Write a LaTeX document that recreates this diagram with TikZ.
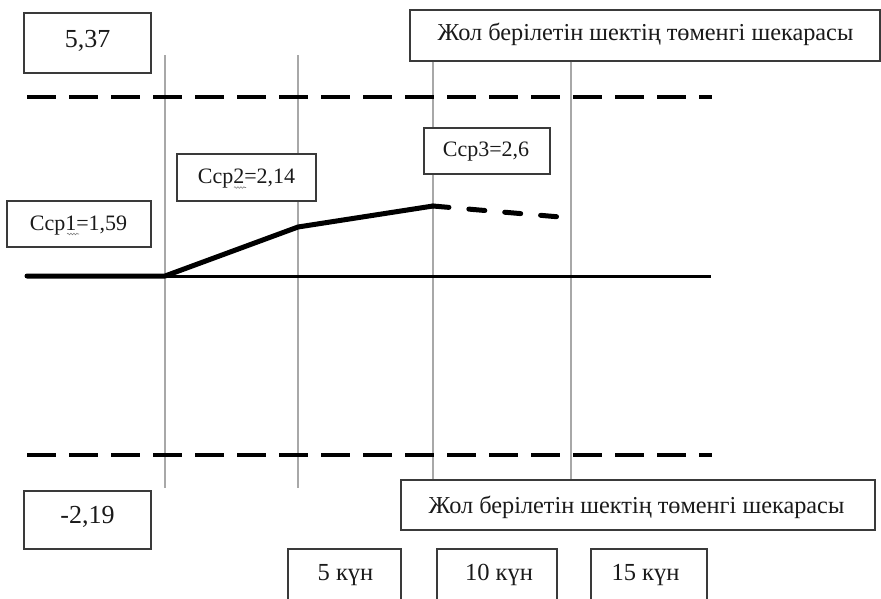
\documentclass[tikz,border=0pt]{standalone}
\usepackage{fontspec}
\setmainfont{Liberation Serif}
\usetikzlibrary{decorations.pathmorphing}
\definecolor{framegray}{HTML}{3A3A3A}
\definecolor{gridgray}{HTML}{A8A8A8}
\definecolor{inkblack}{HTML}{1A1A1A}
\tikzset{
  box/.style={draw=framegray, line width=1.2pt, inner sep=0pt, fill=white},
  lbl/.style={anchor=base, inner sep=0pt, text=inkblack},
  bigfont/.style={font=\fontsize{26}{30}\selectfont},
  midfont/.style={font=\fontsize{22}{26}\selectfont},
  longfont/.style={font=\fontsize{24.3}{28}\selectfont},
  daysfont/.style={font=\fontsize{24.5}{28}\selectfont},
  gridline/.style={draw=gridgray, line width=1.5pt},
  limitline/.style={draw=black, line width=4pt, dash pattern=on 29pt off 13pt},
  baseline/.style={draw=black, line width=3pt},
  trend/.style={draw=black, line width=5pt, line join=round, line cap=round},
  forecast/.style={draw=black, line width=5pt, line cap=round, dash pattern=on 16pt off 20pt},
  squiggle/.style={draw=gray, line width=0.6pt, decorate, decoration={snake, amplitude=0.8pt, segment length=3pt}}
}
\begin{document}
\begin{tikzpicture}[x=1pt, y=-1pt]
\clip (0,0) rectangle (881,598);
\fill[white] (0,0) rectangle (881,598);

% control points of the chart
\coordinate (l0) at (27,97);   \coordinate (l1) at (712,97);
\coordinate (u0) at (27,455);  \coordinate (u1) at (712,455);
\coordinate (a0) at (27,276);  \coordinate (a1) at (711,276);
\coordinate (p1) at (165,276);
\coordinate (p2) at (298,227);
\coordinate (p3) at (433,206);
\coordinate (p4) at (560,217);
\coordinate (g1t) at (165,55); \coordinate (g1b) at (165,488);
\coordinate (g2t) at (298,55); \coordinate (g2b) at (298,488);

% boxes
\node[box, minimum width=470pt, minimum height=51pt] (btop) at (645,35.5) {};
\node[box, minimum width=474pt, minimum height=50pt] (bbot) at (638,505) {};

% vertical day markers
\coordinate (g3t) at (btop.south -| 433,0); \coordinate (g3b) at (bbot.north -| 433,0);
\coordinate (g4t) at (btop.south -| 571,0); \coordinate (g4b) at (bbot.north -| 571,0);
\draw[gridline] (g1t) -- (g1b);
\draw[gridline] (g2t) -- (g2b);
\draw[gridline] (g3t) -- (g3b);
\draw[gridline] (g4t) -- (g4b);

% limits, axis and trend
\draw[limitline] (l0) -- (l1);
\draw[limitline] (u0) -- (u1);
\draw[baseline] (a0) -- (a1);
\draw[trend] (a0) -- (p1) -- (p2) -- (p3);
\draw[forecast] (p3) -- (p4);

% value boxes
\node[box, minimum width=127pt, minimum height=60pt] (b537) at (87.5,43) {};
\node[box, minimum width=144pt, minimum height=46pt] (bc1) at (79,224) {};
\node[box, minimum width=139pt, minimum height=47pt] (bc2) at (246.5,177.5) {};
\node[box, minimum width=126pt, minimum height=46pt] (bc3) at (487,151) {};
\node[box, minimum width=127pt, minimum height=58pt] (b219) at (87.5,520) {};
\node[box, minimum width=113pt, minimum height=62pt] (d5) at (344.5,580) {};
\node[box, minimum width=120pt, minimum height=62pt] (d10) at (497,580) {};
\node[box, minimum width=116pt, minimum height=62pt] (d15) at (649,580) {};

% texts
\node[lbl, bigfont] (t537) at (87.5,47) {5,37};
\node[lbl, bigfont] (t219) at (87.5,523) {-2,19};
\node[lbl, longfont] (ttop) at (645.5,40) {Жол берілетін шектің төменгі шекарасы};
\node[lbl, longfont] (tbot) at (636.5,513) {Жол берілетін шектің төменгі шекарасы};
\node[lbl, midfont] (tc1) at (78.5,230) {Ccp1=1,59};
\node[lbl, midfont] (tc2) at (246.5,183.5) {Ccp2=2,14};
\node[lbl, midfont] (tc3) at (486,156.5) {Ccp3=2,6};
\node[lbl, daysfont] (t5) at (345.5,580.5) {5 күн};
\node[lbl, daysfont] (t10) at (499,580.5) {10 күн};
\node[lbl, daysfont] (t15) at (645.5,580.5) {15 күн};

% spelling marks under the index digits
\coordinate (s1a) at (67,234); \coordinate (s1b) at (79,234);
\coordinate (s2a) at (234,187.5); \coordinate (s2b) at (246,187.5);
\draw[squiggle] (s1a) -- (s1b);
\draw[squiggle] (s2a) -- (s2b);
\end{tikzpicture}
\end{document}
